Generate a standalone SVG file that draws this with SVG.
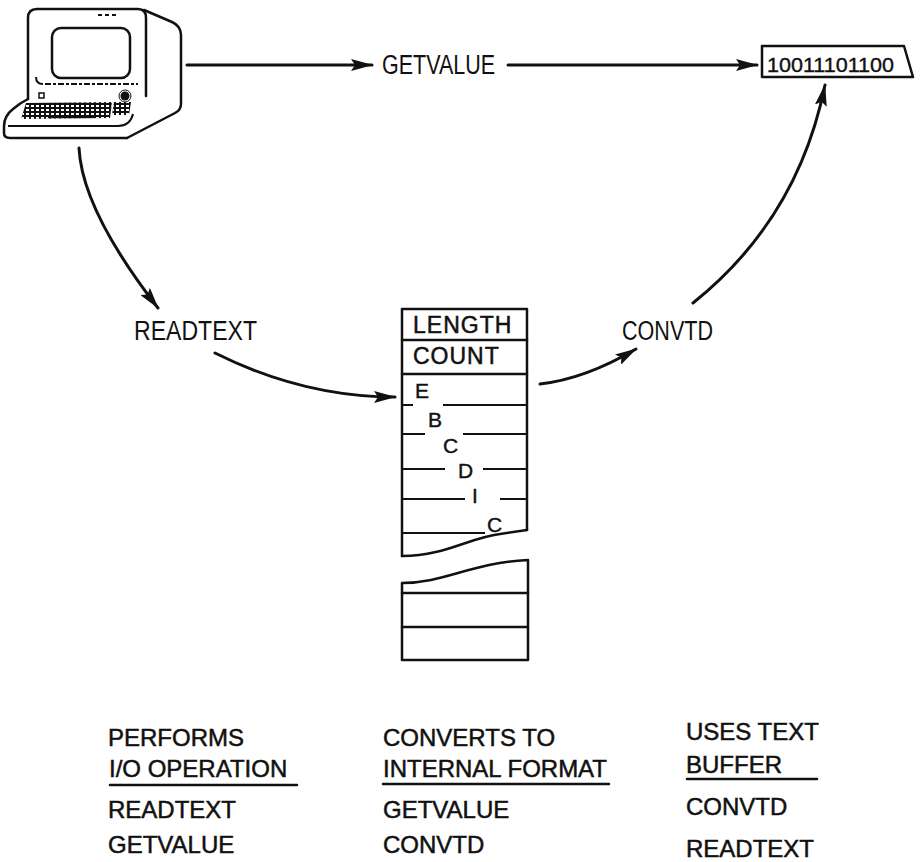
<svg xmlns="http://www.w3.org/2000/svg" width="920" height="862" viewBox="0 0 920 862">
  <defs>
    <style>
      .ln { fill: none; stroke: #111; stroke-width: 2.5; stroke-linecap: round; stroke-linejoin: round; }
      .thin { fill: none; stroke: #111; stroke-width: 2; stroke-linecap: butt; }
      .conn { fill: none; stroke: #111; stroke-width: 3; stroke-linecap: round; }
      .lbl { font-family: "Liberation Sans", Arial, sans-serif; font-size: 27px; fill: #111; }
      .box { font-family: "Liberation Sans", Arial, sans-serif; font-size: 23px; fill: #111; letter-spacing: 1px; stroke: #111; stroke-width: 0.5; }
      .chr { font-family: "Liberation Sans", Arial, sans-serif; font-size: 21px; fill: #111; stroke: #111; stroke-width: 0.4; }
      .tbl { font-family: "Liberation Sans", Arial, sans-serif; font-size: 24px; fill: #111; stroke: #111; stroke-width: 0.5; }
    </style>
    <marker id="arrow" viewBox="0 0 22 12" refX="21" refY="6" markerWidth="22" markerHeight="12" markerUnits="userSpaceOnUse" orient="auto">
      <path d="M0,0 L22,6 L0,12 L4,6 Z" fill="#111"/>
    </marker>
    <pattern id="keys" width="5" height="4" patternUnits="userSpaceOnUse">
      <rect x="1" y="1" width="3" height="2" fill="#fff"/>
    </pattern>
  </defs>
  <rect width="920" height="862" fill="#fff"/>

  <!-- video display terminal -->
  <g id="terminal">
    <!-- cabinet side -->
    <path class="ln" d="M144,10 L172,22 Q181,26 181,35 L181,104 Q181,110 175,113 L127,138"/>
    <!-- front bezel -->
    <path class="ln" d="M28,99 L28,18 Q28,9 37,9 L138,9 Q146,9 146,18 L146,96"/>
    <!-- base / keyboard tray -->
    <path class="ln" d="M28,99 Q20,103 13,109 Q4,116 4,126 L4,133 Q4,138 10,138 L127,138"/>
    <path class="thin" d="M8,126 L118,126 Q130,126 133,114"/>
    <!-- screen -->
    <rect class="ln" x="52" y="28" width="78" height="50" rx="9"/>
    <!-- inner bezel trim -->
    <path class="thin" d="M36,77 Q36,84 43,84"/>
    <path class="thin" stroke-width="1.5" stroke-dasharray="6 2 3 2" d="M45,84 L138,84"/>
    <path class="thin" stroke-width="1" stroke-dasharray="4 3" d="M98,15 L118,15"/>
    <!-- controls -->
    <rect x="39" y="93" width="5" height="5" fill="none" stroke="#111" stroke-width="1.5"/>
    <circle cx="125" cy="96" r="4.5" fill="#111"/>
    <circle cx="125" cy="96" r="6" fill="none" stroke="#111" stroke-width="1"/>
    <!-- keyboard -->
    <polygon points="26,103 112,102 110,118 21,119" fill="#111"/>
    <polygon points="26,103 112,102 110,118 21,119" fill="url(#keys)"/>
    <rect x="48" y="115" width="48" height="3" fill="#111"/>
    <polygon points="114,102 131,102 129,115 112,115" fill="#111"/>
    <polygon points="114,102 131,102 129,115 112,115" fill="url(#keys)"/>
  </g>

  <!-- binary register -->
  <g id="register">
    <path class="ln" d="M762,46 L904,46 L913,77 L762,77 Z"/>
    <text class="chr" x="767" y="72" font-size="26" textLength="127" lengthAdjust="spacingAndGlyphs">10011101100</text>
  </g>

  <!-- text buffer -->
  <g id="buffer">
    <path class="ln" d="M402,556 L402,309 L527,309 L527,530"/>
    <path class="ln" d="M402,340 L527,340"/>
    <path class="ln" d="M402,374 L527,374" stroke-width="3"/>
    <path class="thin" d="M402,405 L413,405 M443,405 L527,405"/>
    <path class="thin" d="M402,434 L425,434 M463,434 L527,434"/>
    <path class="thin" d="M402,469 L445,469 M483,469 L527,469"/>
    <path class="thin" d="M402,499 L465,499 M500,499 L527,499"/>
    <path class="thin" d="M402,533 L485,533"/>
    <path class="ln" d="M402,556 C445,556 468,538 500,534 L527,530"/>
    <text class="box" x="413" y="333">LENGTH</text>
    <text class="box" x="413" y="364">COUNT</text>
    <text class="chr" x="415" y="398">E</text>
    <text class="chr" x="428" y="427">B</text>
    <text class="chr" x="443" y="453">C</text>
    <text class="chr" x="458" y="478">D</text>
    <text class="chr" x="472" y="503">I</text>
    <text class="chr" x="487" y="532">C</text>
  </g>

  <!-- continuation of buffer -->
  <g id="buffer-end">
    <path class="ln" d="M402,583 C445,583 470,563 528,560 L528,660 L402,660 Z"/>
    <path class="ln" d="M402,593 L528,593" stroke-width="3"/>
    <path class="ln" d="M402,627 L528,627"/>
  </g>

  <!-- routine labels -->
  <g id="labels">
    <text class="lbl" x="382" y="74" textLength="113" lengthAdjust="spacingAndGlyphs">GETVALUE</text>
    <text class="lbl" x="134" y="340" textLength="123" lengthAdjust="spacingAndGlyphs">READTEXT</text>
    <text class="lbl" x="622" y="340" textLength="91" lengthAdjust="spacingAndGlyphs">CONVTD</text>
  </g>

  <!-- connectors -->
  <g id="connectors">
    <path class="conn" d="M187,65 L372,65" marker-end="url(#arrow)"/>
    <path class="conn" d="M508,65 L757,65" marker-end="url(#arrow)"/>
    <path class="conn" d="M79,148 Q82,210 158,308" marker-end="url(#arrow)"/>
    <path class="conn" d="M215,353 Q303,397 395,397" marker-end="url(#arrow)"/>
    <path class="conn" d="M540,384 Q585,379 636,349" marker-end="url(#arrow)"/>
    <path class="conn" d="M693,303 Q798,219 825,85" marker-end="url(#arrow)"/>
  </g>

  <!-- classification table -->
  <g id="table">
    <text class="tbl" x="108" y="746">PERFORMS</text>
    <text class="tbl" x="109" y="777">I/O OPERATION</text>
    <path class="ln" d="M110,785 L297,785"/>
    <text class="tbl" x="108" y="818">READTEXT</text>
    <text class="tbl" x="108" y="853">GETVALUE</text>

    <text class="tbl" x="383" y="746">CONVERTS TO</text>
    <text class="tbl" x="383" y="777">INTERNAL FORMAT</text>
    <path class="ln" d="M383,784 L609,784"/>
    <text class="tbl" x="383" y="818">GETVALUE</text>
    <text class="tbl" x="383" y="853">CONVTD</text>

    <text class="tbl" x="686" y="740">USES TEXT</text>
    <text class="tbl" x="686" y="773">BUFFER</text>
    <path class="ln" d="M687,779 L817,779"/>
    <text class="tbl" x="686" y="815">CONVTD</text>
    <text class="tbl" x="686" y="857">READTEXT</text>
  </g>
</svg>
